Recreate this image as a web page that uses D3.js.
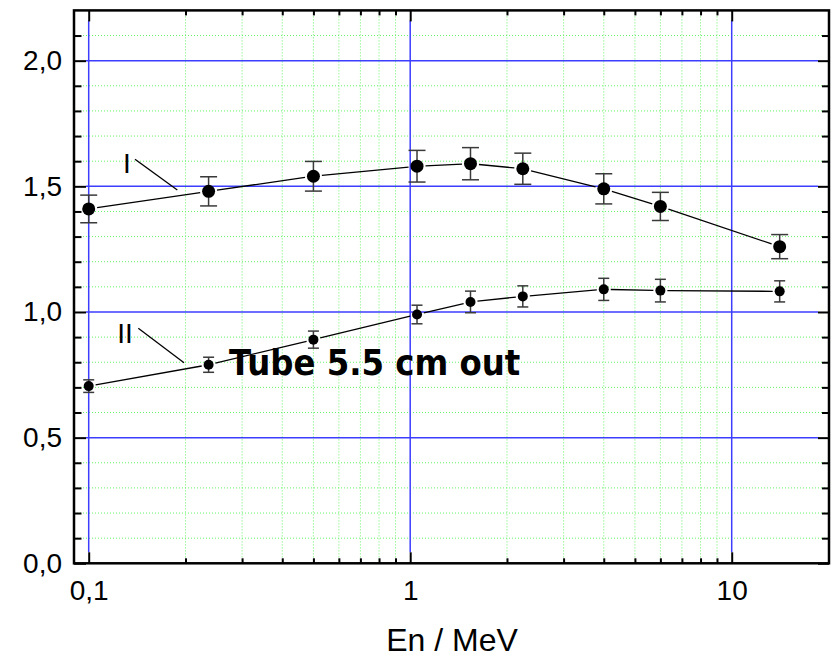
<!DOCTYPE html>
<html>
<head>
<meta charset="utf-8">
<script src="https://cdn.jsdelivr.net/npm/d3@7/dist/d3.min.js"></script>
<style>
  html, body { margin: 0; padding: 0; background: #fff; }
  svg { display: block; }
</style>
</head>
<body>
<svg id="chart" width="832" height="659"></svg>
<script>
// ---- data ----
const energy   = [0.1, 0.236, 0.5, 1.05, 1.54, 2.24, 4.0, 6.0, 14.1];
const seriesI  = [1.41, 1.48, 1.54, 1.58, 1.59, 1.57, 1.49, 1.42, 1.26];
const errI     = [0.055, 0.058, 0.059, 0.063, 0.064, 0.062, 0.060, 0.056, 0.048];
const seriesII = [0.705, 0.79, 0.89, 0.99, 1.04, 1.062, 1.09, 1.085, 1.082];
const errII    = [0.025, 0.030, 0.034, 0.037, 0.043, 0.042, 0.044, 0.045, 0.042];
const xMajorTicks = [0.1, 1, 10];
const xMinorTicks = [0.2,0.3,0.4,0.5,0.6,0.7,0.8,0.9,2,3,4,5,6,7,8,9];
const yMajorTicks = [0.0, 0.5, 1.0, 1.5, 2.0];
const yMinorTicks = [0.1,0.2,0.3,0.4,0.6,0.7,0.8,0.9,1.1,1.2,1.3,1.4,1.6,1.7,1.8,1.9,2.1];
const xTitle = "En / MeV";
const annotation = "Tube 5.5 cm out";
const seriesLabels = ["I", "II"];

// ---- layout ----
const L = 74, R = 829, T = 10.4, B = 563.3;
const svg = d3.select("#chart");
const x = d3.scaleLog().domain([0.1, 10]).range([88.7, 731.7]);
const y = d3.scaleLinear().domain([0, 2.2]).range([B, T]);
const fmt = d => d3.format(".1f")(d).replace(".", ",");
const fmtX = d => d < 1 ? String(d).replace(".", ",") : String(d);
const tickFont = "'Liberation Sans', Arial, sans-serif";

// grids
const grid = svg.append("g");
grid.selectAll(".gmx").data(xMinorTicks).join("line")
  .attr("x1", d => x(d)).attr("x2", d => x(d)).attr("y1", T).attr("y2", B)
  .attr("stroke", "#66f266").attr("stroke-width", 1).attr("stroke-dasharray", "1,2");
grid.selectAll(".gmy").data(yMinorTicks).join("line")
  .attr("x1", L).attr("x2", R).attr("y1", d => y(d)).attr("y2", d => y(d))
  .attr("stroke", "#66f266").attr("stroke-width", 1).attr("stroke-dasharray", "1,2");
grid.selectAll(".gMx").data(xMajorTicks).join("line")
  .attr("x1", d => x(d)).attr("x2", d => x(d)).attr("y1", T + 10).attr("y2", B - 11)
  .attr("stroke", "#3d3dff").attr("stroke-width", 1.5);
grid.selectAll(".gMy").data(yMajorTicks.filter(d => d > 0)).join("line")
  .attr("x1", L + 12).attr("x2", R - 11).attr("y1", d => y(d)).attr("y2", d => y(d))
  .attr("stroke", "#3d3dff").attr("stroke-width", 1.5);

// axes (ticks inward)
function styleAxis(g) {
  g.select(".domain").remove();
  g.selectAll(".tick line").attr("stroke", "#000").attr("stroke-width", 2);
  g.selectAll("text").attr("font-family", tickFont).attr("font-size", 28).attr("fill", "#000");
}
svg.append("g").attr("transform", `translate(0,${B})`)
  .call(d3.axisBottom(x).tickValues(xMajorTicks).tickFormat(fmtX).tickSize(-11).tickPadding(17)).call(styleAxis);
svg.append("g").attr("transform", `translate(0,${B})`)
  .call(d3.axisBottom(x).tickValues(xMinorTicks).tickFormat("").tickSize(-5)).call(styleAxis);
svg.append("g").attr("transform", `translate(0,${T})`)
  .call(d3.axisTop(x).tickValues(xMajorTicks).tickFormat("").tickSize(-11)).call(styleAxis);
svg.append("g").attr("transform", `translate(0,${T})`)
  .call(d3.axisTop(x).tickValues(xMinorTicks).tickFormat("").tickSize(-5)).call(styleAxis);
svg.append("g").attr("transform", `translate(${L},0)`)
  .call(d3.axisLeft(y).tickValues(yMajorTicks).tickFormat(fmt).tickSize(-12).tickPadding(12)).call(styleAxis);
svg.append("g").attr("transform", `translate(${L},0)`)
  .call(d3.axisLeft(y).tickValues(yMinorTicks).tickFormat("").tickSize(-7.5)).call(styleAxis);
svg.append("g").attr("transform", `translate(${R},0)`)
  .call(d3.axisRight(y).tickValues(yMajorTicks).tickFormat("").tickSize(-11)).call(styleAxis);
svg.append("g").attr("transform", `translate(${R},0)`)
  .call(d3.axisRight(y).tickValues(yMinorTicks).tickFormat("").tickSize(-7)).call(styleAxis);

// frame
svg.append("rect").attr("x", L).attr("y", T).attr("width", R - L).attr("height", B - T)
  .attr("fill", "none").attr("stroke", "#000").attr("stroke-width", 2.5);

// series
function drawSeries(vals, errs, r, capW) {
  const pts = energy.map((e, i) => ({ px: x(e), py: y(vals[i]), lo: y(vals[i] - errs[i]), hi: y(vals[i] + errs[i]) }));
  const g = svg.append("g");
  for (let i = 0; i < pts.length - 1; i++) {
    const a = pts[i], b = pts[i + 1];
    const dx = b.px - a.px, dy = b.py - a.py, len = Math.hypot(dx, dy);
    const gap = r + 2;
    g.append("line")
      .attr("x1", a.px + dx / len * gap).attr("y1", a.py + dy / len * gap)
      .attr("x2", b.px - dx / len * gap).attr("y2", b.py - dy / len * gap)
      .attr("stroke", "#000").attr("stroke-width", 1.3);
  }
  const eb = g.selectAll(".eb").data(pts).join("g");
  eb.append("line").attr("x1", d => d.px).attr("x2", d => d.px).attr("y1", d => d.lo).attr("y2", d => d.hi)
    .attr("stroke", "#3a3a3a").attr("stroke-width", 1.5);
  eb.append("line").attr("x1", d => d.px - capW / 2).attr("x2", d => d.px + capW / 2).attr("y1", d => d.lo).attr("y2", d => d.lo)
    .attr("stroke", "#3a3a3a").attr("stroke-width", 1.5);
  eb.append("line").attr("x1", d => d.px - capW / 2).attr("x2", d => d.px + capW / 2).attr("y1", d => d.hi).attr("y2", d => d.hi)
    .attr("stroke", "#3a3a3a").attr("stroke-width", 1.5);
  g.selectAll(".pt").data(pts).join("circle")
    .attr("cx", d => d.px).attr("cy", d => d.py).attr("r", r).attr("fill", "#000");
}
drawSeries(seriesI, errI, 6.5, 17);
drawSeries(seriesII, errII, 5, 11);

// series labels with leader lines
svg.append("text").attr("x", 127).attr("y", 172.5).attr("text-anchor", "middle")
  .attr("font-family", tickFont).attr("font-size", 28).text(seriesLabels[0]);
svg.append("line").attr("x1", 135).attr("y1", 159.3).attr("x2", 177.3).attr("y2", 190)
  .attr("stroke", "#000").attr("stroke-width", 1.3);
svg.append("text").attr("x", 125).attr("y", 342.7).attr("text-anchor", "middle")
  .attr("font-family", tickFont).attr("font-size", 28).text(seriesLabels[1]);
svg.append("line").attr("x1", 138.3).attr("y1", 328.3).attr("x2", 184).attr("y2", 362.7)
  .attr("stroke", "#000").attr("stroke-width", 1.3);

// annotation
svg.append("text").attr("x", 229).attr("y", 375)
  .attr("font-family", "'DejaVu Sans Condensed', 'DejaVu Sans', Verdana, sans-serif")
  .attr("font-stretch", "condensed")
  .attr("font-weight", "bold").attr("font-size", 36).attr("fill", "#000").text(annotation);

// x title
svg.append("text").attr("x", 452).attr("y", 651).attr("text-anchor", "middle")
  .attr("font-family", tickFont).attr("font-size", 32).attr("fill", "#000").text(xTitle);
</script>
</body>
</html>
